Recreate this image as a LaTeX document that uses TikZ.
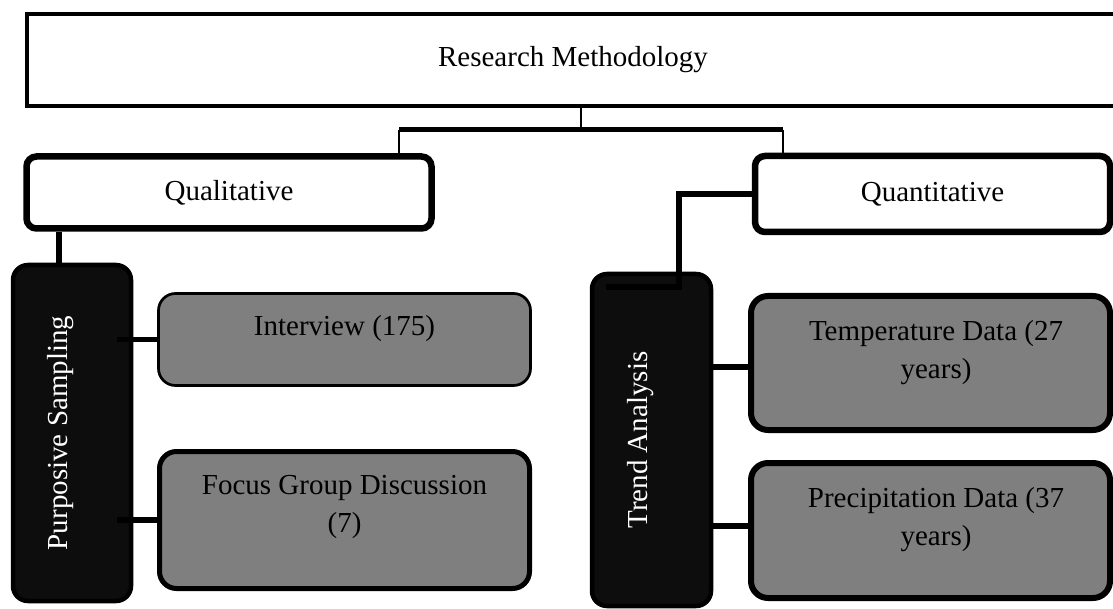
\documentclass[tikz,border=0pt]{standalone}
\usepackage{fontspec}
\setmainfont{Liberation Serif}
\definecolor{darkbox}{HTML}{0D0D0D}
\definecolor{graybox}{HTML}{7F7F7F}

\begin{document}
\begin{tikzpicture}[x=1pt,y=-1pt,font=\fontsize{29}{38.5}\selectfont,
hb/.style={draw,line width=4pt,minimum width=1092pt,minimum
height=92pt,inner sep=0pt},cb/.style={draw,line width=6.5pt,rounded
corners=10pt,fill=white,inner sep=0pt},mb/.style={draw,line
width=4.5pt,rounded corners=15pt,fill=darkbox,inner sep=0pt},
db/.style={draw,rounded corners=17pt,fill=graybox,inner sep=0pt},
tx/.style={inner sep=0pt,align=center,anchor=north},
vt/.style={inner sep=0pt,rotate=90,text=white},
ln/.style={line width=5.5pt},thin/.style={line width=1.4pt}]
\clip (0,0) rectangle (1113,609);
\node[hb] (rm) at (573,60) {Research Methodology};
\node[cb,minimum width=405pt,minimum height=72pt] (ql) at (229,192.5) {Qualitative};
\node[cb,minimum width=355pt,minimum height=76pt] (qn) at (932.5,194) {Quantitative};
\node[mb,minimum width=118pt,minimum height=336pt] (ps) at (72,433) {};
\node[vt] (pst) at ([xshift=-11pt]ps.center) {Purposive Sampling};
\node[mb,minimum width=119pt,minimum height=332pt] (ta) at (651.5,440) {};
\node[vt] (tat) at ([xshift=-11pt]ta.center) {Trend Analysis};
\node[db,line width=2.7pt,minimum width=372pt,minimum height=92pt] (iv) at (344.5,339.5) {};
\node[tx] (ivt) at ([yshift=-23pt]iv.north) {Interview (175)};
\node[db,line width=5pt,minimum width=370pt,minimum height=137pt] (fg) at (344.5,520) {};
\node[tx] (fgt) at ([yshift=-26pt]fg.north) {Focus Group Discussion\\(7)};
\node[db,line width=6pt,minimum width=359pt,minimum height=134pt] (td) at (930.5,363) {};
\node[tx] (tdt) at ([xshift=5.5pt,yshift=-27pt]td.north) {Temperature Data (27\\years)};
\node[db,line width=6pt,minimum width=359pt,minimum height=135pt] (pd) at (930.5,530.5) {};
\node[tx] (pdt) at ([xshift=5.5pt,yshift=-27pt]pd.north) {Precipitation Data (37\\years)};
\coordinate (sp) at (581,130);
\coordinate (bl) at (399,130);
\coordinate (br) at (783,130);
\coordinate (qk) at (58.5,0);
\coordinate (tk) at (678.5,287);
\coordinate (tk2) at (606,287);
\coordinate (tdin) at ([yshift=-3.5pt]td.west);
\coordinate (pdin) at ([yshift=4.5pt]pd.west);
\draw[thin] (rm.south -| sp) -- (sp);
\draw[line width=5pt] (bl) -- (br);
\draw[thin] (bl) -- (ql.north -| bl);
\draw[thin] (br) -- (qn.north -| br);
\draw[line width=6pt] (ql.south -| qk) -- (ps.north -| qk);
\draw[line width=6pt] (qn.west) -| (tk) -- (tk2);
\draw[ln] ([xshift=-16pt]ps.east |- iv.west) -- (iv.west);
\draw[ln] ([xshift=-16pt]ps.east |- fg.west) -- (fg.west);
\draw[line width=6pt] (ta.east |- tdin) -- (tdin);
\draw[line width=6pt] (ta.east |- pdin) -- (pdin);
\end{tikzpicture}
\end{document}
